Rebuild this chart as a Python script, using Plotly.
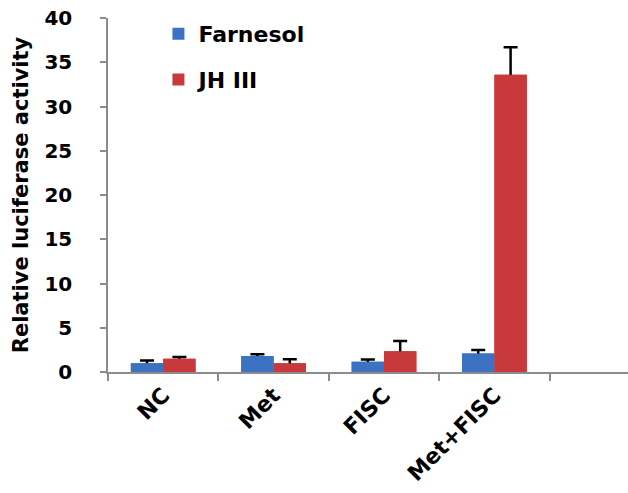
import plotly.graph_objects as go

categories = ["NC", "Met", "FISC", "Met+FISC", " "]
farnesol = [1.0, 1.8, 1.15, 2.1, None]
farnesol_err = [0.3, 0.2, 0.25, 0.4, None]
jh3 = [1.5, 1.0, 2.35, 33.6, None]
jh3_err = [0.2, 0.45, 1.15, 3.1, None]
y_ticks = [0, 5, 10, 15, 20, 25, 30, 35, 40]

font_family = "DejaVu Sans, Arial, sans-serif"
series = [
    ("Farnesol", farnesol, farnesol_err, "#3B72C2", "a"),
    ("JH III", jh3, jh3_err, "#C7393A", "b"),
]

fig = go.Figure()
# error bars (lower part hidden under the overlaid bars)
for name, vals, errs, color, grp in series:
    half = [v / 2 if v is not None else None for v in vals]
    fig.add_trace(go.Bar(
        name=name, x=categories, y=vals, offsetgroup=grp, showlegend=False,
        marker=dict(color=color, line=dict(width=0)), hoverinfo="skip",
        error_y=dict(type="data", array=errs, arrayminus=half, symmetric=False,
                     color="black", thickness=2.5, width=7),
    ))
for name, vals, errs, color, grp in series:
    fig.add_trace(go.Bar(
        name=name, x=categories, y=vals, offsetgroup=grp, legendgroup=grp,
        marker=dict(color=color, line=dict(width=0)),
    ))

fig.update_layout(
    width=628, height=493,
    margin=dict(l=108, r=0, t=18, b=121),
    paper_bgcolor="white", plot_bgcolor="white",
    barmode="group", bargap=0.414, bargroupgap=0,
    font=dict(family=font_family, color="black"),
    legend=dict(x=0.097, y=1.014, xanchor="left", yanchor="top",
                font=dict(size=22, family=font_family, color="black", weight="bold"),
                bgcolor="rgba(0,0,0,0)", tracegroupgap=14, itemwidth=30),
    showlegend=True,
)
fig.update_xaxes(
    type="category", range=[-0.5, 4.21],
    showline=True, linecolor="#8c8c8c", linewidth=1.5,
    ticks="outside", ticklen=7, tickcolor="#8c8c8c", tickwidth=1.5,
    tickson="boundaries",
    tickangle=-45, tickfont=dict(size=22, weight="bold"),
    showgrid=False,
)
fig.update_yaxes(
    range=[0, 40], tickvals=y_ticks,
    showline=True, linecolor="#8c8c8c", linewidth=1.5,
    ticks="outside", ticklen=6, tickcolor="#8c8c8c", tickwidth=1.5,
    ticklabelstandoff=24,
    tickfont=dict(size=20, weight="bold"),
    title=dict(text="Relative luciferase activity", font=dict(size=21, weight="bold"), standoff=10),
    showgrid=False, zeroline=False,
)
fig.write_html("out.html", config={"displayModeBar": False},
               post_script="document.body.style.margin='0';")
